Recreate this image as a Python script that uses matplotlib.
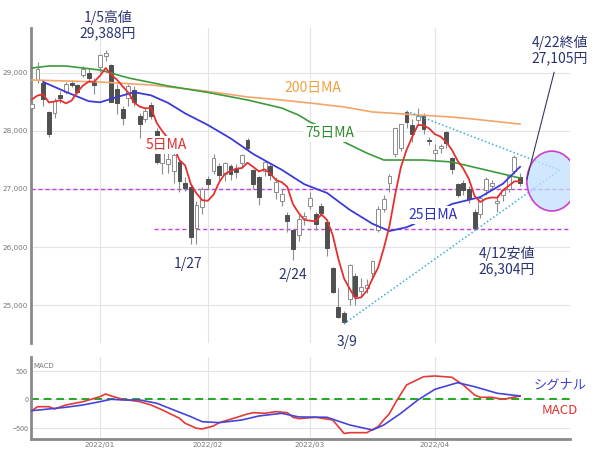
import numpy as np
import pandas as pd
import matplotlib
matplotlib.use("Agg")
from matplotlib import pyplot as plt
from matplotlib.patches import Ellipse

plt.rcParams['font.family'] = ['Noto Sans CJK JP', 'DejaVu Sans']

# trading days (Dec 9 2021 .. Apr 22 2022), first four only feed the 5-day MA
dates = ['12/09', '12/10', '12/13', '12/14', '12/15', '12/16', '12/17', '12/20', '12/21', '12/22',
         '12/23', '12/24', '12/27', '12/28', '12/29', '12/30',
         '01/04', '01/05', '01/06', '01/07', '01/11', '01/12', '01/13', '01/14', '01/17', '01/18',
         '01/19', '01/20', '01/21', '01/24', '01/25', '01/26', '01/27', '01/28', '01/31',
         '02/01', '02/02', '02/03', '02/04', '02/07', '02/08', '02/09', '02/10', '02/14', '02/15',
         '02/16', '02/17', '02/18', '02/21', '02/22', '02/24', '02/25', '02/28',
         '03/01', '03/02', '03/03', '03/04', '03/07', '03/08', '03/09', '03/10', '03/11', '03/14',
         '03/15', '03/16', '03/17', '03/18', '03/22', '03/23', '03/24', '03/25', '03/28', '03/29',
         '03/30', '03/31',
         '04/01', '04/04', '04/05', '04/06', '04/07', '04/08', '04/11', '04/12', '04/13', '04/14',
         '04/15', '04/18', '04/19', '04/20', '04/21', '04/22']

opens = [28800, 28500, 28600, 28500, 28390, 28870, 28830, 28320, 28300, 28620,
         28660, 28830, 28780, 28960, 29000, 28840,
         29098, 29288, 29136, 28711, 28380, 28560, 28700, 28250, 28200, 28440,
         28000, 27450, 27430, 27300, 27460, 27100, 27040, 26330, 26690,
         27170, 27300, 27400, 27260, 27400, 27350, 27440, 27840, 27330, 27200,
         27300, 27400, 26950, 26800, 26550, 26290, 26200, 26500,
         26700, 26560, 26700, 26430, 25640, 24960, 24860, 25100, 25500, 25250,
         25300, 25560, 26300, 26650, 27100, 27600, 27700, 28330, 28100, 28180,
         28270, 27850,
         27620, 27700, 27980, 27530, 27080, 27100, 27000, 26600, 26560, 26980,
         27050, 26750, 26900, 27000, 27300, 27200]
highs = [28870, 28560, 28700, 28560, 28520, 29180, 28880, 28340, 28560, 28680,
         28840, 28870, 28800, 29120, 29080, 28900,
         29323, 29388, 29158, 28813, 28430, 28800, 28770, 28300, 28400, 28490,
         28050, 27800, 27650, 27650, 27500, 27200, 27060, 26800, 27030,
         27230, 27600, 27450, 27470, 27430, 27420, 27600, 27880, 27350, 27230,
         27480, 27450, 27200, 27000, 26600, 26300, 26550, 26600,
         26950, 26600, 26760, 26450, 25650, 25300, 24900, 25700, 25550, 25460,
         25450, 25780, 26700, 26900, 27250, 28050, 28100, 28338, 28200, 28400,
         28300, 27900,
         27780, 27780, 28000, 27550, 27100, 27150, 27050, 26650, 26870, 27200,
         27150, 26900, 27000, 27250, 27580, 27280]
lows = [28620, 28320, 28530, 28300, 28340, 28820, 28430, 27893, 28220, 28480,
        28630, 28750, 28640, 28920, 28860, 28640,
        29015, 29204, 28487, 28293, 28093, 28420, 28420, 27880, 28150, 28200,
        27420, 27250, 27270, 27100, 26950, 26960, 26044, 26060, 26560,
        26990, 27250, 27150, 27140, 27150, 27180, 27380, 27650, 26990, 26724,
        27230, 27150, 26830, 26700, 26260, 25775, 26100, 26380,
        26650, 26300, 26540, 25850, 25200, 24780, 24681, 25000, 25000, 25150,
        25200, 25450, 26250, 26600, 26950, 27550, 27650, 28050, 27800, 28100,
        27950, 27750,
        27500, 27620, 27700, 27260, 26860, 26900, 26760, 26304, 26500, 26900,
        26980, 26600, 26800, 26950, 27250, 27050]
closes = [28725, 28437, 28640, 28432, 28459, 29066, 28545, 27937, 28517, 28562,
          28798, 28782, 28676, 29069, 28906, 28791,
          29301, 29332, 28487, 28478, 28222, 28765, 28489, 28124, 28333, 28257,
          27467, 27772, 27522, 27588, 27131, 27011, 26170, 26717, 27002,
          27078, 27533, 27241, 27440, 27248, 27284, 27579, 27696, 27080, 26865,
          27460, 27232, 27122, 26910, 26449, 25970, 26476, 26526,
          26844, 26393, 26577, 25985, 25221, 24790, 24717, 25690, 25162, 25307,
          25346, 25762, 26652, 26827, 27224, 28040, 28110, 28149, 27943, 28252,
          28027, 27821,
          27665, 27736, 27787, 27350, 26888, 26985, 26821, 26335, 26843, 27172,
          27093, 26799, 26985, 27217, 27553, 27105]

# moving averages
ma25_dates = ['12/17', '12/23', '12/29', '01/04', '01/07', '01/13', '01/18', '01/21', '01/26',
              '02/01', '02/07', '02/14', '02/21', '02/28', '03/04', '03/10', '03/16', '03/22',
              '03/25', '03/28', '04/06', '04/13', '04/19', '04/22']
ma25_vals = [28840, 28670, 28510, 28490, 28580, 28665, 28610, 28480, 28300,
             28100, 27870, 27600, 27330, 27080, 26930, 26640, 26400, 26275,
             26340, 26380, 26740, 26860, 27090, 27380]
ma75_dates = ['12/15', '12/20', '12/23', '01/04', '01/12', '01/21', '02/01', '02/10', '02/21',
              '02/25', '03/01', '03/04', '03/09', '03/15', '03/18', '03/24', '03/30', '04/06',
              '04/14', '04/22']
ma75_vals = [29080, 29115, 29115, 29046, 28910, 28771, 28660, 28530, 28392,
             28270, 28151, 28020, 27807, 27617, 27497, 27497, 27497, 27463,
             27325, 27187]
ma200_dates = ['12/15', '01/04', '01/18', '01/28', '02/02', '02/10', '02/21', '03/01', '03/09',
               '03/16', '03/22', '03/29', '04/06', '04/12', '04/22']
ma200_vals = [28874, 28840, 28788, 28702, 28666, 28582, 28530, 28478, 28410,
              28324, 28306, 28272, 28237, 28200, 28115]

macd_dates = ['12/15', '12/16', '12/20', '12/21', '12/23', '12/28', '01/04', '01/05', '01/06',
              '01/11', '01/14', '01/18', '01/20', '01/25', '01/26', '01/28', '01/31', '02/02',
              '02/03', '02/07', '02/10', '02/14', '02/16', '02/18', '02/22', '02/24', '02/25',
              '03/02', '03/07', '03/09', '03/10', '03/15', '03/17', '03/18', '03/22', '03/23',
              '03/25', '03/30', '04/01', '04/06', '04/08', '04/12', '04/13', '04/15', '04/19',
              '04/20', '04/22']
macd_vals = [-200, -130, -130, -170, -100, -42, 46, 93, 58,
             0, -42, -100, -188, -333, -421, -509, -521, -468,
             -410, -351, -258, -235, -246, -217, -235, -316, -340,
             -316, -363, -600, -586, -586, -480, -360, -250, -70,
             251, 396, 409, 386, 251, 75, 35, 35, 0,
             18, 58]
signal_dates = ['12/15', '12/20', '12/23', '12/28', '01/04', '01/06', '01/11', '01/14', '01/19',
                '01/24', '01/27', '01/31', '02/03', '02/09', '02/15', '02/21', '02/25', '03/04',
                '03/10', '03/16', '03/18', '03/24', '03/29', '04/01', '04/07', '04/12', '04/18',
                '04/22']
signal_vals = [-200, -170, -140, -100, -42, 0, -12, -12, -70,
               -188, -305, -393, -410, -363, -293, -246, -310, -316,
               -451, -539, -451, -246, -12, 175, 291, 221, 105,
               58]

month_ticks = ['01/04', '02/01', '03/01', '04/01']
month_labels = ['2022/01', '2022/02', '2022/03', '2022/04']

# annotation values
high_0105 = 29388
low_0412 = 26304
close_0422 = 27105
band_levels = [27000, 26304]
apex = (81, 27322)

x0 = dates.index('01/04')
pos = {d: i - x0 for i, d in enumerate(dates)}
xs = np.array([pos[d] for d in dates])
o = np.array(opens); h = np.array(highs); l = np.array(lows); c = np.array(closes)
ma5 = pd.Series(closes).rolling(5).mean()

fig = plt.figure(figsize=(6, 4.54), dpi=100)
ax = fig.add_axes([31/600, 1-343/454, 539/600, 315/454])
ax2 = fig.add_axes([31/600, 1-439/454, 539/600, 82/454])

grid_c = '#e2e2e8'
tick_c = '#777777'
navy = '#2b3470'

# --- main panel ---
ax.set_xlim(-12.15, 82.8)
ax.set_ylim(24348, 29769)
ax.set_yticks([25000, 26000, 27000, 28000, 29000])
ax.set_yticklabels([f'{v:,}' for v in [25000, 26000, 27000, 28000, 29000]],
                   family='DejaVu Sans')
ax.set_xticks([pos[d] for d in month_ticks])
ax.set_xticklabels([])
ax.tick_params(length=0, labelsize=5.2, labelcolor=tick_c, pad=2)
ax.grid(True, color=grid_c, lw=0.8, zorder=0)
ax.set_axisbelow(True)
for s in ['top', 'right', 'bottom']:
    ax.spines[s].set_visible(False)
ax.spines['left'].set_color('#8a8a8a')
ax.spines['left'].set_linewidth(2)

for lev, start in zip(band_levels, [-12.15, pos['01/19'] - 0.5]):
    ax.hlines(lev, start, 82.8, colors='#c040e0', linestyles=(0, (3, 2)), lw=1.0, zorder=1)

up = c >= o
ax.vlines(xs, l, h, color='#8c8c8c', lw=0.8, zorder=2)
body = np.maximum(np.abs(c - o), 12)
ax.bar(xs[up], body[up], bottom=o[up], width=0.68, color='white',
       edgecolor='#8c8c8c', lw=0.7, zorder=3)
ax.bar(xs[~up], body[~up], bottom=c[~up], width=0.68, color='#505050',
       edgecolor='#505050', lw=0.7, zorder=3)

ax.plot([pos[d] for d in ma200_dates], ma200_vals, color='#f4a56a', lw=1.2, zorder=4)
ax.plot([pos[d] for d in ma75_dates], ma75_vals, color='#3d9a3d', lw=1.2, zorder=4)
ax.plot([pos[d] for d in ma25_dates], ma25_vals, color='#3b3bd6', lw=1.3, zorder=4)
ax.plot(xs, ma5, color='#e53030', lw=1.3, zorder=5)

# triangle and target ellipse
ax.plot([pos['03/25'], apex[0], pos['03/09']], [highs[dates.index('03/25')], apex[1],
        lows[dates.index('03/09')]], color='#3aaee0', ls=(0, (1, 1.5)), lw=1.1, zorder=6)
ax.add_patch(Ellipse((pos['04/22'] + 5.6, close_0422 + 30), 8.8, 1030,
                     facecolor=(0.76, 0.88, 1.0, 0.75), edgecolor='#cc3fd0', lw=1.2, zorder=7))

lbl = dict(ha='center', va='center', fontsize=10, zorder=8)
bb = dict(boxstyle='square,pad=0.15', fc='white', ec='none')
ax.text(37.5, 28736, '200日MA', color='#f0a040', bbox=bb, **lbl)
ax.text(40.5, 27962, '75日MA', color='#2e8b2e', bbox=bb, **lbl)
ax.text(11.6, 27756, '5日MA', color='#e03030', bbox=bb, **lbl)
ax.text(58.6, 26551, '25日MA', color='#3030c0', bbox=bb, **lbl)

ax.text(15.5, 25706, '1/27', color=navy, **lbl)
ax.text(34.0, 25517, '2/24', color=navy, **lbl)
ax.text(43.5, 24364, '3/9', color=navy, clip_on=False, **lbl)
ax.text(71.7, 25757, f'4/12安値\n{low_0412:,}円', color=navy, linespacing=1.15, **lbl)
ax.text(1.4, 29821, f'1/5高値\n{high_0105:,}円', color=navy, linespacing=1.15,
        clip_on=False, **lbl)
ax.annotate(f'4/22終値\n{close_0422:,}円', xy=(pos['04/22'] + 1.2, close_0422 + 60),
            xytext=(81, 29390), ha='center', va='center', fontsize=10, color=navy,
            linespacing=1.15, zorder=9, annotation_clip=False,
            arrowprops=dict(arrowstyle='-', color='#3a3a5a', lw=0.8, shrinkA=3, shrinkB=0))

# --- MACD panel ---
ax2.set_xlim(-12.15, 82.8)
ax2.set_ylim(-697, 742)
ax2.set_yticks([-500, 0, 500])
ax2.set_xticks([pos[d] for d in month_ticks])
ax2.set_xticklabels(month_labels, family='DejaVu Sans')
ax2.tick_params(length=0, labelsize=5.2, labelcolor=tick_c, pad=2)
ax2.grid(True, color=grid_c, lw=0.8, zorder=0)
ax2.set_axisbelow(True)
for s in ['top', 'right']:
    ax2.spines[s].set_visible(False)
for s in ['left', 'bottom']:
    ax2.spines[s].set_color('#8a8a8a')
    ax2.spines[s].set_linewidth(2)
ax2.axhline(0, color='#22aa22', ls=(0, (4, 2.5)), lw=1.4, zorder=2)
ax2.plot([pos[d] for d in macd_dates], macd_vals, color='#e53935', lw=1.2, zorder=3)
ax2.plot([pos[d] for d in signal_dates], signal_vals, color='#4545d8', lw=1.2, zorder=4)
ax2.text(0.004, 0.93, 'MACD', transform=ax2.transAxes, fontsize=5, color=tick_c,
         family='DejaVu Sans', va='top')
ax2.text(81, 251, 'シグナル', color='#4040d0', fontsize=9.5, ha='center', va='center',
         clip_on=False)
ax2.text(81, -205, 'MACD', color='#e03030', fontsize=9.5, ha='center', va='center',
         clip_on=False)

fig.savefig('out.png', dpi=100)
